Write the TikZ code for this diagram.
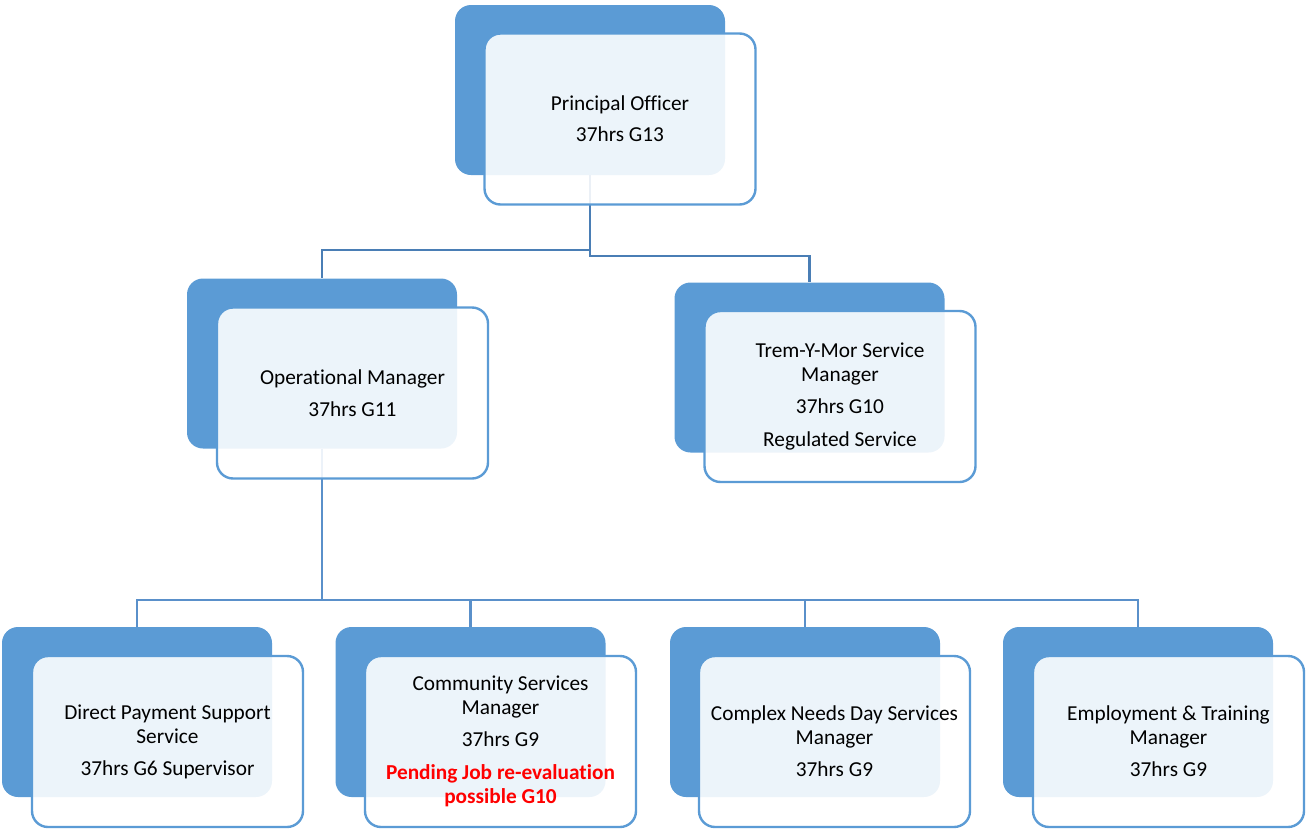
\documentclass[tikz,border=0pt]{standalone}
\usepackage{fontspec}
\setmainfont{Carlito}[Ligatures=NoCommon]
\definecolor{boxblue}{HTML}{5B9BD5}
\definecolor{topblue}{HTML}{4A7EB5}
\definecolor{subblue}{HTML}{5A90CA}

\begin{document}
\begin{tikzpicture}[x=1pt, y=-1pt,
    backbox/.style ={rectangle, rounded corners=16pt, fill=boxblue, minimum width=270pt, minimum height=170pt, inner sep=0pt},
    frontbox/.style ={rectangle, rounded corners=16pt, draw=boxblue, line width=2.4pt, fill=white, fill opacity=0.89, text opacity=1,
      minimum width=271pt, minimum height=171pt, align=center, font=\fontsize{21.3}{24}\selectfont},
    topline/.style ={draw=topblue, line width=2.6pt},
    subline/.style ={draw=subblue, line width=2.6pt}]
   \useasboundingbox (0,0) rectangle (1307,830);
   % back boxes
   \node[backbox] (pb) at (590,90) {};
   \node[backbox] (ob) at (322,363.5) {};
   \node[backbox] (tb) at (809.5,367.5) {};
   \node[backbox] (db) at (137,712) {};
   \node[backbox] (cb) at (470.5,712) {};
   \node[backbox] (nb) at (805,712) {};
   \node[backbox] (eb) at (1138,712) {};
   % connectors
   \coordinate (rowL) at (0,250);
   \coordinate (rowR) at (0,256);
   \coordinate (rowB) at (0,600);
   \draw[topline] (pb.south) -- (pb.south |- rowR) -| (tb.north);
   \draw[topline] (pb.south |- rowL) -| (ob.north);
   \draw[subline] (ob.south) -- (ob.south |- rowB) -| (db.north);
   \draw[subline] (ob.south |- rowB) -| (cb.north);
   \draw[subline] (ob.south |- rowB) -| (nb.north);
   \draw[subline] (ob.south |- rowB) -| (eb.north);
   % front boxes
   \node[frontbox] (pf) at (620,119) {Principal Officer\\[7pt]37hrs G13};
   \node[frontbox] (of) at (352.5,393) {Operational Manager\\[8pt]37hrs G11};
   \node[frontbox] (tf) at (840,396.5) {Trem-Y-Mor Service\\Manager\\[8pt]37hrs G10\\[9pt]Regulated Service};
   \node[frontbox] (df) at (167.5,741.5) {Direct Payment Support\\Service\\[8pt]37hrs G6 Supervisor};
   \node[frontbox] (cf) at (500.5,741.5) {Community Services\\Manager\\[8pt]37hrs G9\\[9pt]{\bfseries\color{red}Pending Job re-evaluation}\\{\bfseries\color{red}possible G10}};
   \node[frontbox] (nf) at (834.5,741.5) {Complex Needs Day Services\\Manager\\[8pt]37hrs G9};
   \node[frontbox] (ef) at (1168.5,741.5) {Employment \& Training\\Manager\\[8pt]37hrs G9};
\end{tikzpicture}
\end{document}
